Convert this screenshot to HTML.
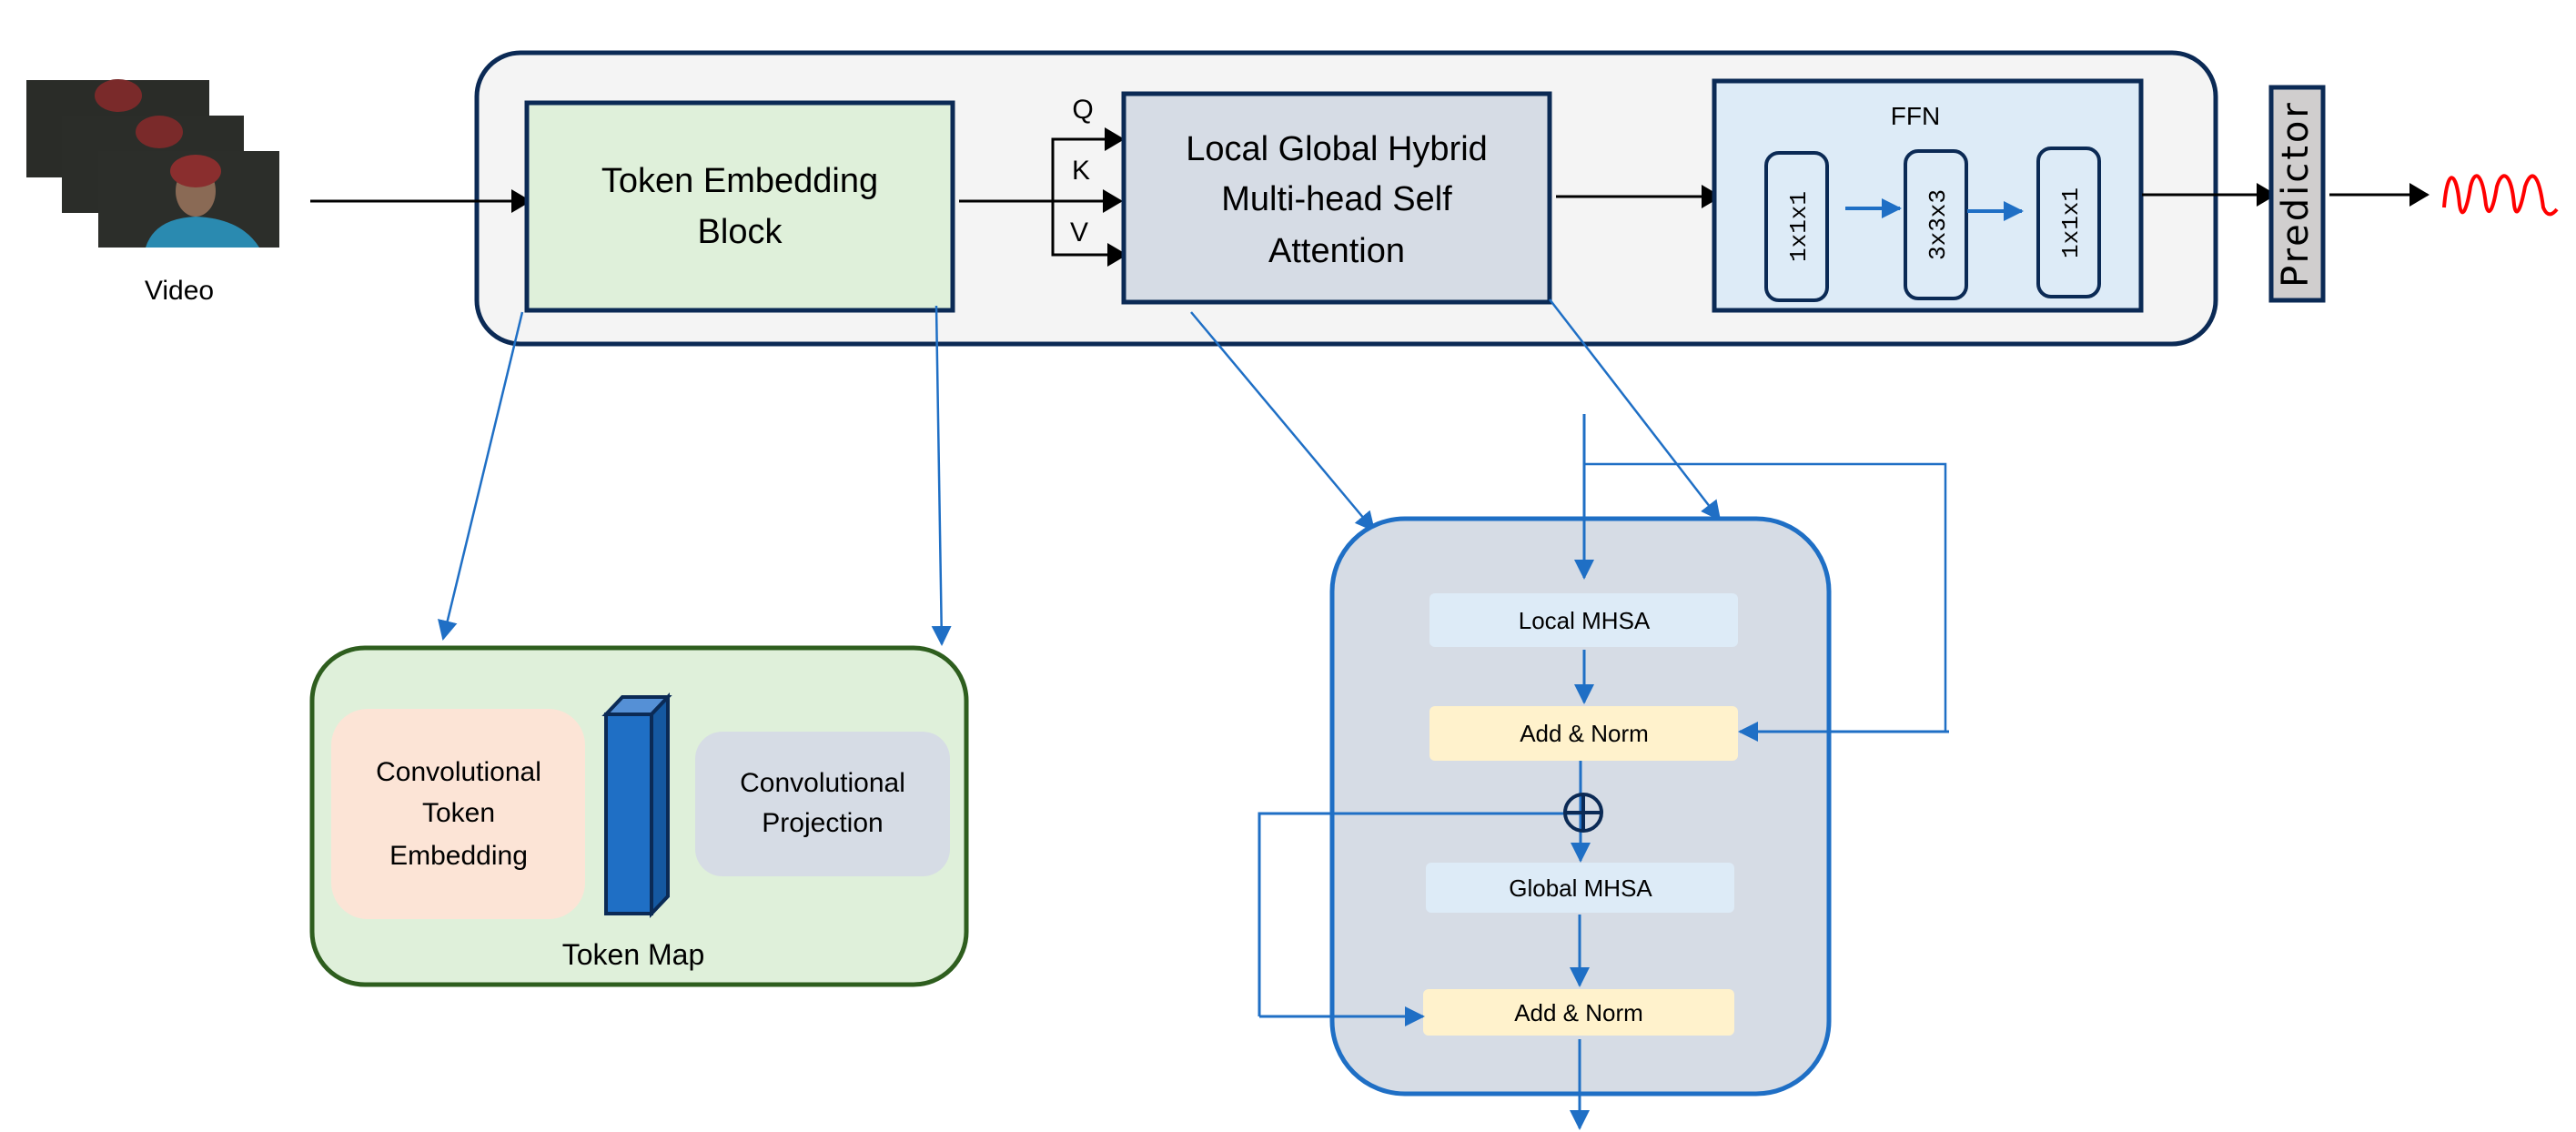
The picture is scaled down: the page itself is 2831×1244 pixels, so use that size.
<!DOCTYPE html>
<html><head><meta charset="utf-8"><style>
html,body{margin:0;padding:0;background:#fff;}
svg{display:block;}
text{font-family:"Liberation Sans",sans-serif;fill:#000;}
</style></head><body>
<svg width="2831" height="1244" viewBox="0 0 2831 1244" xmlns="http://www.w3.org/2000/svg">
<defs>
<marker id="ab" markerWidth="22" markerHeight="22" refX="20" refY="11" orient="auto" markerUnits="userSpaceOnUse"><path d="M0,0 L22,11 L0,22 z" fill="#1f6fc5"/></marker>
<marker id="abk" markerWidth="22" markerHeight="26" refX="20" refY="13" orient="auto" markerUnits="userSpaceOnUse"><path d="M0,0 L22,13 L0,26 z" fill="#000"/></marker>
</defs>

<!-- video frames -->
<rect x="29" y="88" width="201" height="107" fill="#2a2c28"/>
<ellipse cx="130" cy="105" rx="26" ry="18" fill="#7a2a2a"/>
<rect x="68" y="127" width="200" height="107" fill="#2b2d29"/>
<ellipse cx="175" cy="145" rx="26" ry="18" fill="#7a2a2a"/>
<rect x="108" y="166" width="199" height="106" fill="#2c2e2a"/>
<path d="M160 272 Q170 240 215 238 Q265 240 285 272 z" fill="#2a8ab0"/>
<ellipse cx="215" cy="210" rx="22" ry="28" fill="#8a6a55"/>
<ellipse cx="215" cy="188" rx="28" ry="18" fill="#8a2e2e"/>
<text x="197" y="329" font-size="30" text-anchor="middle">Video</text>

<!-- outer container -->
<rect x="524" y="58" width="1911" height="320" rx="48" fill="#f4f4f4" stroke="#0b2a55" stroke-width="5"/>

<line x1="341" y1="221" x2="582" y2="221" stroke="#000" stroke-width="3" marker-end="url(#abk)"/>

<!-- token embedding block -->
<rect x="579" y="113" width="468" height="228" fill="#dff0da" stroke="#0b2a55" stroke-width="5"/>
<text x="813" y="211" font-size="38" text-anchor="middle">Token Embedding</text>
<text x="813" y="267" font-size="38" text-anchor="middle">Block</text>

<line x1="1054" y1="221" x2="1232" y2="221" stroke="#000" stroke-width="3" marker-end="url(#abk)"/>
<polyline points="1232,153 1157,153 1157,280 1232,280" fill="none" stroke="#000" stroke-width="3"/>
<line x1="1157" y1="153" x2="1234" y2="153" stroke="#000" stroke-width="3" marker-end="url(#abk)"/>
<line x1="1157" y1="280" x2="1237" y2="280" stroke="#000" stroke-width="3" marker-end="url(#abk)"/>
<text x="1190" y="130" font-size="30" text-anchor="middle">Q</text>
<text x="1188" y="197" font-size="30" text-anchor="middle">K</text>
<text x="1186" y="265" font-size="30" text-anchor="middle">V</text>

<!-- attention box -->
<rect x="1235" y="103" width="468" height="229" fill="#d6dce5" stroke="#0b2a55" stroke-width="5"/>
<text x="1469" y="176" font-size="38" text-anchor="middle">Local Global Hybrid</text>
<text x="1469" y="231" font-size="38" text-anchor="middle">Multi-head Self</text>
<text x="1469" y="288" font-size="38" text-anchor="middle">Attention</text>

<line x1="1710" y1="216" x2="1890" y2="216" stroke="#000" stroke-width="3" marker-end="url(#abk)"/>

<!-- FFN -->
<rect x="1884" y="89" width="469" height="252" fill="#ddebf7" stroke="#0b2a55" stroke-width="5"/>
<text x="2105" y="137" font-size="28" text-anchor="middle">FFN</text>
<rect x="1941" y="168" width="67" height="162" rx="14" fill="#ddebf7" stroke="#0b2a55" stroke-width="4"/>
<rect x="2094" y="166" width="67" height="162" rx="14" fill="#ddebf7" stroke="#0b2a55" stroke-width="4"/>
<rect x="2240" y="163" width="67" height="163" rx="14" fill="#ddebf7" stroke="#0b2a55" stroke-width="4"/>
<text transform="translate(1984,249) rotate(-90)" font-size="26" text-anchor="middle" style="font-family:'Liberation Mono',monospace">1x1x1</text>
<text transform="translate(2137,247) rotate(-90)" font-size="26" text-anchor="middle" style="font-family:'Liberation Mono',monospace">3x3x3</text>
<text transform="translate(2283,245) rotate(-90)" font-size="26" text-anchor="middle" style="font-family:'Liberation Mono',monospace">1x1x1</text>
<line x1="2028" y1="229" x2="2088" y2="229" stroke="#1f6fc5" stroke-width="4" marker-end="url(#ab)"/>
<line x1="2162" y1="232" x2="2222" y2="232" stroke="#1f6fc5" stroke-width="4" marker-end="url(#ab)"/>

<line x1="2354" y1="214" x2="2500" y2="214" stroke="#000" stroke-width="3" marker-end="url(#abk)"/>
<rect x="2496" y="96" width="57" height="234" fill="#d0cece" stroke="#0b2a55" stroke-width="5"/>
<text transform="translate(2536,213) rotate(-90)" font-size="40" text-anchor="middle" style="font-family:'DejaVu Sans',sans-serif;letter-spacing:3px">Predictor</text>
<line x1="2560" y1="214" x2="2668" y2="214" stroke="#000" stroke-width="3" marker-end="url(#abk)"/>
<path d="M2686,228 C2690,180 2700,190 2703,225 C2706,245 2712,225 2715,205 C2720,185 2728,190 2732,225 C2735,240 2740,230 2744,205 C2750,185 2760,190 2763,225 C2765,240 2770,232 2775,205 C2782,185 2790,190 2795,228 C2800,240 2806,235 2810,230" fill="none" stroke="#f00" stroke-width="4"/>

<!-- connectors to token map -->
<line x1="574" y1="343" x2="487" y2="702" stroke="#1f6fc5" stroke-width="2.5" marker-end="url(#ab)"/>
<line x1="1029" y1="336" x2="1035" y2="708" stroke="#1f6fc5" stroke-width="2.5" marker-end="url(#ab)"/>

<!-- token map -->
<rect x="343" y="712" width="719" height="370" rx="58" fill="#dff0da" stroke="#2e5e1e" stroke-width="5"/>
<rect x="364" y="779" width="279" height="231" rx="40" fill="#fce4d6"/>
<text x="504" y="858" font-size="30" text-anchor="middle">Convolutional</text>
<text x="504" y="903" font-size="30" text-anchor="middle">Token</text>
<text x="504" y="950" font-size="30" text-anchor="middle">Embedding</text>
<rect x="764" y="804" width="280" height="159" rx="30" fill="#d6dce5"/>
<text x="904" y="870" font-size="30" text-anchor="middle">Convolutional</text>
<text x="904" y="914" font-size="30" text-anchor="middle">Projection</text>
<polygon points="666,785 684,766 734,766 716,785" fill="#5590d6" stroke="#0b2a55" stroke-width="4"/>
<polygon points="716,785 734,766 734,985 716,1004" fill="#1558a0" stroke="#0b2a55" stroke-width="4"/>
<rect x="666" y="785" width="50" height="219" fill="#1f6fc5" stroke="#0b2a55" stroke-width="4"/>
<text x="696" y="1060" font-size="32" text-anchor="middle">Token Map</text>

<!-- attention detail connectors -->
<line x1="1309" y1="343" x2="1510" y2="583" stroke="#1f6fc5" stroke-width="2.5" marker-end="url(#ab)"/>
<line x1="1703" y1="329" x2="1890" y2="571" stroke="#1f6fc5" stroke-width="2.5" marker-end="url(#ab)"/>

<!-- attention detail box -->
<rect x="1464" y="570" width="546" height="632" rx="80" fill="#d6dce5" stroke="#1f6fc5" stroke-width="5"/>
<rect x="1571" y="652" width="339" height="59" rx="6" fill="#ddebf7"/>
<text x="1741" y="691" font-size="26" text-anchor="middle">Local MHSA</text>
<rect x="1571" y="776" width="339" height="60" rx="6" fill="#fff2cc"/>
<text x="1741" y="815" font-size="26" text-anchor="middle">Add &amp; Norm</text>
<rect x="1567" y="948" width="339" height="55" rx="6" fill="#ddebf7"/>
<text x="1737" y="985" font-size="26" text-anchor="middle">Global MHSA</text>
<rect x="1564" y="1087" width="342" height="51" rx="6" fill="#fff2cc"/>
<text x="1735" y="1122" font-size="26" text-anchor="middle">Add &amp; Norm</text>

<line x1="1741" y1="455" x2="1741" y2="635" stroke="#1f6fc5" stroke-width="3" marker-end="url(#ab)"/>
<polyline points="1741,510 2138,510 2138,804" fill="none" stroke="#1f6fc5" stroke-width="2.5"/>
<line x1="2142" y1="804" x2="1912" y2="804" stroke="#1f6fc5" stroke-width="3" marker-end="url(#ab)"/>
<line x1="1741" y1="714" x2="1741" y2="772" stroke="#1f6fc5" stroke-width="3" marker-end="url(#ab)"/>
<line x1="1737" y1="836" x2="1737" y2="946" stroke="#1f6fc5" stroke-width="3" marker-end="url(#ab)"/>
<polyline points="1740,894 1384,894 1384,1117" fill="none" stroke="#1f6fc5" stroke-width="3"/>
<line x1="1384" y1="1117" x2="1564" y2="1117" stroke="#1f6fc5" stroke-width="3" marker-end="url(#ab)"/>
<circle cx="1740" cy="893" r="20" fill="none" stroke="#0b2a55" stroke-width="4"/>
<line x1="1720" y1="893" x2="1760" y2="893" stroke="#0b2a55" stroke-width="4"/>
<line x1="1740" y1="873" x2="1740" y2="913" stroke="#0b2a55" stroke-width="4"/>
<line x1="1736" y1="1005" x2="1736" y2="1083" stroke="#1f6fc5" stroke-width="3" marker-end="url(#ab)"/>
<line x1="1736" y1="1142" x2="1736" y2="1240" stroke="#1f6fc5" stroke-width="3" marker-end="url(#ab)"/>
</svg>
</body></html>
